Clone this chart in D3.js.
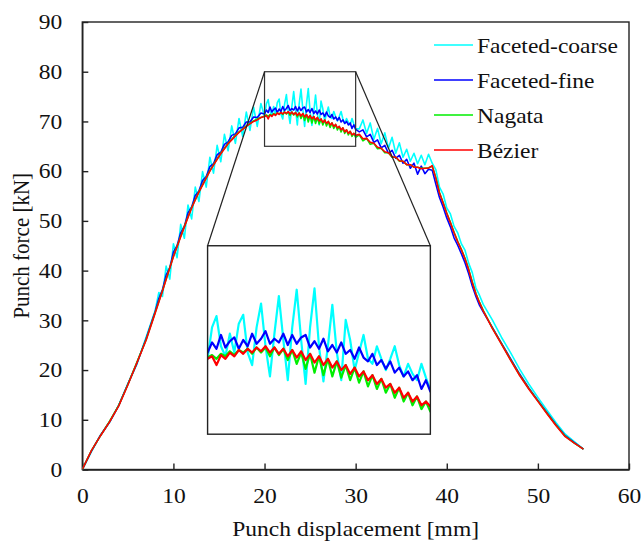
<!DOCTYPE html>
<html>
<head>
<meta charset="utf-8">
<script src="https://cdn.jsdelivr.net/npm/d3@7"></script>
<style>
  body { margin: 0; background: #fff; }
  text { font-family: "Liberation Serif", "Times New Roman", serif; fill: #111; }
</style>
</head>
<body>
<svg id="chart" width="641" height="541"></svg>
<script>
// punch displacement [mm] (denser where the inset zooms in)
const disp = [0, 1, 2, 3, 4, 5, 6, 7, 8,
  8.4, 8.8, 9.2, 9.6, 10, 10.4, 10.8, 11.2, 11.6, 12, 12.4, 12.8, 13.2, 13.6, 14, 14.4, 14.8, 15.2, 15.6, 16,
  16.4, 16.8, 17.2, 17.6, 18, 18.4, 18.8, 19.2, 19.6,
  20, 20.2, 20.4, 20.6, 20.8, 21, 21.2, 21.4, 21.6, 21.8, 22, 22.2, 22.4, 22.6, 22.8, 23, 23.2, 23.4, 23.6, 23.8,
  24, 24.2, 24.4, 24.6, 24.8, 25, 25.2, 25.4, 25.6, 25.8, 26, 26.2, 26.4, 26.6, 26.8, 27, 27.2, 27.4, 27.6, 27.8,
  28, 28.2, 28.4, 28.6, 28.8, 29, 29.2, 29.4, 29.6, 29.8, 30,
  30.4, 30.8, 31.2, 31.6, 32, 32.4, 32.8, 33.2, 33.6, 34, 34.4, 34.8, 35.2, 35.6, 36, 36.4, 36.8, 37.2, 37.6, 38,
  38.4, 38.8, 39.2, 39.6, 40, 40.4, 40.8, 41.2, 41.6, 42, 42.4, 42.8, 43.2, 43.6, 44,
  45, 46, 47, 48, 49, 50, 51, 52, 53, 54, 55];

// punch force [kN]
const facetedCoarse = [0, 3.6, 6.9, 9.5, 12.9, 17.2, 21.2, 26.6, 32.0,
  35.6, 34.8, 40.9, 38.3, 45.4, 42.6, 49.3, 46.5, 53.2, 50.4, 56.8, 53.9, 59.9, 56.8, 62.8, 59.6, 65.2, 61.9, 67.4, 64.1,
  69.1, 65.6, 70.6, 67.0, 71.9, 68.2, 72.9, 69.0, 73.6,
  71.0, 73.5, 74.4, 72.0, 71.2, 73.0, 71.5, 73.8, 74.5, 71.5, 70.5, 73.5, 75.4, 72.0, 69.6, 73.0, 76.0, 72.5, 69.3, 73.5,
  76.5, 72.5, 69.0, 73.5, 76.6, 72.0, 69.2, 72.0, 75.3, 71.5, 69.3, 74.1, 72.5, 70.1, 71.5, 72.9, 71.0, 70.6, 72.0, 71.0,
  70.1, 71.0, 72.0, 70.5, 69.6, 70.6, 69.8, 69.3, 70.6, 69.5, 68.5,
  68.5, 70.3, 67.6, 69.7, 66.4, 68.6, 65.5, 67.7, 64.6, 66.8, 63.6, 65.7, 62.8, 64.4, 62.0, 63.6, 61.5, 63.2, 61.3, 63.4,
  61.6, 60.3, 56.8, 55.4, 52.6, 51.4, 48.9, 47.6, 45.4, 44.1, 41.5, 39.6, 36.5, 35.0, 33.2,
  30.1, 26.6, 23.5, 20.2, 17.2, 14.5, 11.9, 9.4, 7.1, 5.6, 4.1];

const facetedFine = [0, 3.7, 6.9, 9.6, 12.9, 17.2, 21.4, 26.3, 31.8,
  34.4, 36.2, 39.1, 40.6, 43.7, 45.0, 47.6, 48.9, 51.6, 52.8, 55.1, 56.0, 58.1, 58.9, 60.9, 61.5, 63.3, 63.8, 65.4, 65.9,
  67.2, 67.5, 68.7, 68.8, 69.9, 69.9, 70.9, 70.8, 71.7,
  71.5, 72.3, 71.8, 72.9, 71.9, 72.4, 72.7, 71.8, 72.5, 72.0, 73.0, 72.2, 72.6, 73.2, 72.2, 72.6, 72.3, 73.0, 72.1, 72.9,
  72.2, 72.7, 72.9, 71.9, 72.4, 71.8, 72.6, 71.6, 72.1, 71.5, 72.3, 71.4, 71.7, 71.0, 71.9, 71.1, 70.8, 71.4, 70.5, 70.9,
  70.2, 70.8, 69.9, 70.3, 69.6, 70.0, 69.3, 69.7, 68.6, 69.3, 68.4,
  67.9, 68.3, 66.9, 67.4, 65.8, 66.3, 64.7, 65.2, 63.6, 64.2, 62.6, 63.2, 61.6, 62.4, 60.6, 61.6, 59.4, 61.0, 59.5, 60.4,
  60.2, 57.4, 54.7, 52.8, 50.6, 48.8, 46.6, 45.1, 43.4, 41.6, 39.4, 36.9, 34.8, 33.0, 31.7,
  28.6, 25.4, 22.3, 19.2, 16.4, 13.9, 11.4, 9.0, 6.8, 5.4, 4.1];

const nagata = [0, 3.8, 6.8, 9.7, 12.9, 17.1, 21.6, 26.1, 31.6,
  33.8, 36.0, 38.3, 40.6, 42.9, 44.9, 46.9, 48.9, 50.8, 52.7, 54.3, 55.9, 57.3, 58.7, 60.1, 61.3, 62.5, 63.6, 64.6, 65.6,
  66.4, 67.2, 67.9, 68.5, 69.1, 69.6, 70.1, 70.5, 70.8,
  71.1, 71.3, 71.0, 71.4, 71.2, 71.6, 71.3, 71.7, 71.5, 71.8, 71.4, 71.9, 71.5, 71.9, 71.2, 71.9, 71.3, 71.8, 70.9, 71.7,
  70.6, 71.5, 70.2, 71.4, 69.9, 71.2, 69.7, 71.0, 69.6, 70.8, 69.5, 70.5, 69.3, 70.3, 69.1, 70.0, 68.8, 69.7, 68.6, 69.4,
  68.3, 69.0, 67.9, 68.7, 67.6, 68.3, 67.3, 68.0, 67.0, 67.6, 66.8,
  67.3, 66.1, 66.6, 65.4, 65.6, 64.5, 64.6, 63.7, 63.7, 62.8, 62.8, 62.0, 62.0, 61.3, 61.3, 60.8, 60.8, 60.6, 60.6, 60.7,
  61.0, 58.7, 55.7, 53.7, 51.6, 49.7, 47.7, 45.9, 44.3, 42.5, 40.3, 37.7, 35.4, 33.6, 32.0,
  28.5, 25.3, 22.1, 19.0, 16.3, 13.8, 11.3, 8.9, 6.7, 5.3, 4.1];

const bezier = [0, 3.8, 6.8, 9.6, 12.8, 17.0, 21.5, 26.0, 31.5,
  33.7, 35.9, 38.2, 40.5, 42.8, 44.8, 46.8, 48.8, 50.7, 52.6, 54.2, 55.8, 57.2, 58.6, 60.0, 61.2, 62.4, 63.5, 64.5, 65.5,
  66.3, 67.1, 67.8, 68.4, 69.0, 69.5, 70.0, 70.3, 70.8,
  71.0, 71.2, 70.5, 71.3, 71.0, 71.5, 71.2, 71.7, 71.4, 71.8, 71.5, 71.9, 71.6, 72.0, 71.5, 71.9, 71.4, 71.8, 71.2, 71.7,
  71.1, 71.6, 70.9, 71.4, 70.7, 71.2, 70.5, 71.0, 70.3, 70.8, 70.1, 70.5, 69.8, 70.3, 69.6, 70.0, 69.3, 69.7, 69.0, 69.4,
  68.7, 69.0, 68.3, 68.7, 67.9, 68.3, 67.6, 68.0, 67.3, 67.6, 67.2,
  67.4, 66.5, 66.6, 65.8, 65.6, 64.8, 64.6, 63.9, 63.7, 62.9, 62.8, 62.1, 62.0, 61.3, 61.3, 60.8, 60.8, 60.5, 60.6, 60.6,
  61.1, 58.6, 55.6, 53.6, 51.5, 49.6, 47.6, 45.8, 44.2, 42.4, 40.2, 37.6, 35.3, 33.5, 31.9,
  28.4, 25.2, 22.0, 18.9, 16.2, 13.7, 11.2, 8.8, 6.6, 5.3, 4.1];

const seriesNames = ["Faceted-coarse", "Faceted-fine", "Nagata", "Bézier"];
const seriesColors = ["#00ffff", "#0000ff", "#00ee00", "#ff0000"];
const xTicks = [0, 10, 20, 30, 40, 50, 60];
const yTicks = [0, 10, 20, 30, 40, 50, 60, 70, 80, 90];
const zoomX = [20, 30];
const zoomY = [65, 80];

const width = 641, height = 541;
const margin = {top: 22, right: 12, bottom: 71.5, left: 82.3};
const stretch = 1.12; // glyphs in the reference are a bit wider than tall

const allSeries = [facetedCoarse, facetedFine, nagata, bezier].map((vals, i) => ({
  name: seriesNames[i],
  color: seriesColors[i],
  points: disp.map((d, j) => [d, vals[j]])
}));

const svg = d3.select("#chart");

const x = d3.scaleLinear().domain([0, 60]).range([margin.left, width - margin.right]);
const y = d3.scaleLinear().domain([0, 90]).range([height - margin.bottom, margin.top]);

// axes, ticks pointing inward
const gx = svg.append("g")
  .attr("transform", `translate(0,${y(0)})`)
  .call(d3.axisBottom(x).tickValues(xTicks).tickSizeInner(-6).tickSizeOuter(0).tickPadding(19));
gx.selectAll("text").attr("transform", `scale(${stretch},1)`);

const gy = svg.append("g")
  .attr("transform", `translate(${x(0)},0)`)
  .call(d3.axisLeft(y).tickValues(yTicks).tickSizeInner(-6).tickSizeOuter(0).tickPadding(18));
gy.selectAll("text").attr("transform", `scale(${stretch},1)`);

svg.selectAll(".tick text").style("font-size", "21px").style("font-family", "Liberation Serif, serif").attr("fill", "#111");
svg.selectAll(".domain, .tick line").attr("stroke", "#222").attr("stroke-width", 1.4);

// frame
svg.append("rect")
  .attr("x", x(0)).attr("y", y(90))
  .attr("width", x(60) - x(0)).attr("height", y(0) - y(90))
  .attr("fill", "none").attr("stroke", "#222").attr("stroke-width", 1.4);

// clip for main curves
svg.append("clipPath").attr("id", "mainClip").append("rect")
  .attr("x", x(0)).attr("y", y(90))
  .attr("width", x(60) - x(0)).attr("height", y(0) - y(90));

const line = d3.line().x(d => x(d[0])).y(d => y(d[1]));

svg.append("g").attr("clip-path", "url(#mainClip)")
  .selectAll("path")
  .data(allSeries)
  .join("path")
  .attr("d", d => line(d.points))
  .attr("fill", "none")
  .attr("stroke", d => d.color)
  .attr("stroke-width", 1.6)
  .attr("stroke-linejoin", "round");

// zoom window on the main chart
svg.append("rect")
  .attr("x", x(zoomX[0])).attr("y", y(zoomY[1]))
  .attr("width", x(zoomX[1]) - x(zoomX[0])).attr("height", y(zoomY[0]) - y(zoomY[1]))
  .attr("fill", "none").attr("stroke", "#333").attr("stroke-width", 1.2);

// inset placement, in main-chart data units
const inset = {x0: x(13.75), x1: x(38.2), y0: y(45), y1: y(7.1)};
const xi = d3.scaleLinear().domain(zoomX).range([inset.x0, inset.x1]);
const yi = d3.scaleLinear().domain(zoomY).range([inset.y1, inset.y0]);

// connector lines
svg.append("line")
  .attr("x1", x(zoomX[0])).attr("y1", y(zoomY[1]))
  .attr("x2", inset.x0).attr("y2", inset.y0)
  .attr("stroke", "#222").attr("stroke-width", 1.2);
svg.append("line")
  .attr("x1", x(zoomX[1])).attr("y1", y(zoomY[1]))
  .attr("x2", inset.x1).attr("y2", inset.y0)
  .attr("stroke", "#222").attr("stroke-width", 1.2);

svg.append("clipPath").attr("id", "insetClip").append("rect")
  .attr("x", inset.x0).attr("y", inset.y0)
  .attr("width", inset.x1 - inset.x0).attr("height", inset.y1 - inset.y0);

svg.append("rect")
  .attr("x", inset.x0).attr("y", inset.y0)
  .attr("width", inset.x1 - inset.x0).attr("height", inset.y1 - inset.y0)
  .attr("fill", "#fff");

const lineInset = d3.line().x(d => xi(d[0])).y(d => yi(d[1]));

svg.append("g").attr("clip-path", "url(#insetClip)")
  .selectAll("path")
  .data(allSeries)
  .join("path")
  .attr("d", d => lineInset(d.points.filter(p => p[0] >= zoomX[0] - 1 && p[0] <= zoomX[1] + 1)))
  .attr("fill", "none")
  .attr("stroke", d => d.color)
  .attr("stroke-width", 2.2)
  .attr("stroke-linejoin", "round");

svg.append("rect")
  .attr("x", inset.x0).attr("y", inset.y0)
  .attr("width", inset.x1 - inset.x0).attr("height", inset.y1 - inset.y0)
  .attr("fill", "none").attr("stroke", "#222").attr("stroke-width", 1.4);

// legend
const legend = svg.append("g").selectAll("g")
  .data(allSeries)
  .join("g")
  .attr("transform", (d, i) => `translate(434,${45 + i * 35})`);
legend.append("line")
  .attr("x1", 0).attr("x2", 39).attr("y1", 0).attr("y2", 0)
  .attr("stroke", d => d.color).attr("stroke-width", 1.6);
legend.append("text")
  .attr("transform", `translate(43,7.5) scale(${stretch},1)`)
  .style("font-size", "21px")
  .text(d => d.name);

// axis titles
svg.append("text")
  .attr("transform", `translate(${(x(0) + x(60)) / 2},536) scale(${stretch},1)`)
  .attr("text-anchor", "middle")
  .style("font-size", "21px")
  .text("Punch displacement [mm]");

svg.append("text")
  .attr("transform", `translate(29,${(y(0) + y(90)) / 2}) scale(${stretch},1) rotate(-90)`)
  .attr("text-anchor", "middle")
  .style("font-size", "21px")
  .text("Punch force [kN]");
</script>
</body>
</html>
